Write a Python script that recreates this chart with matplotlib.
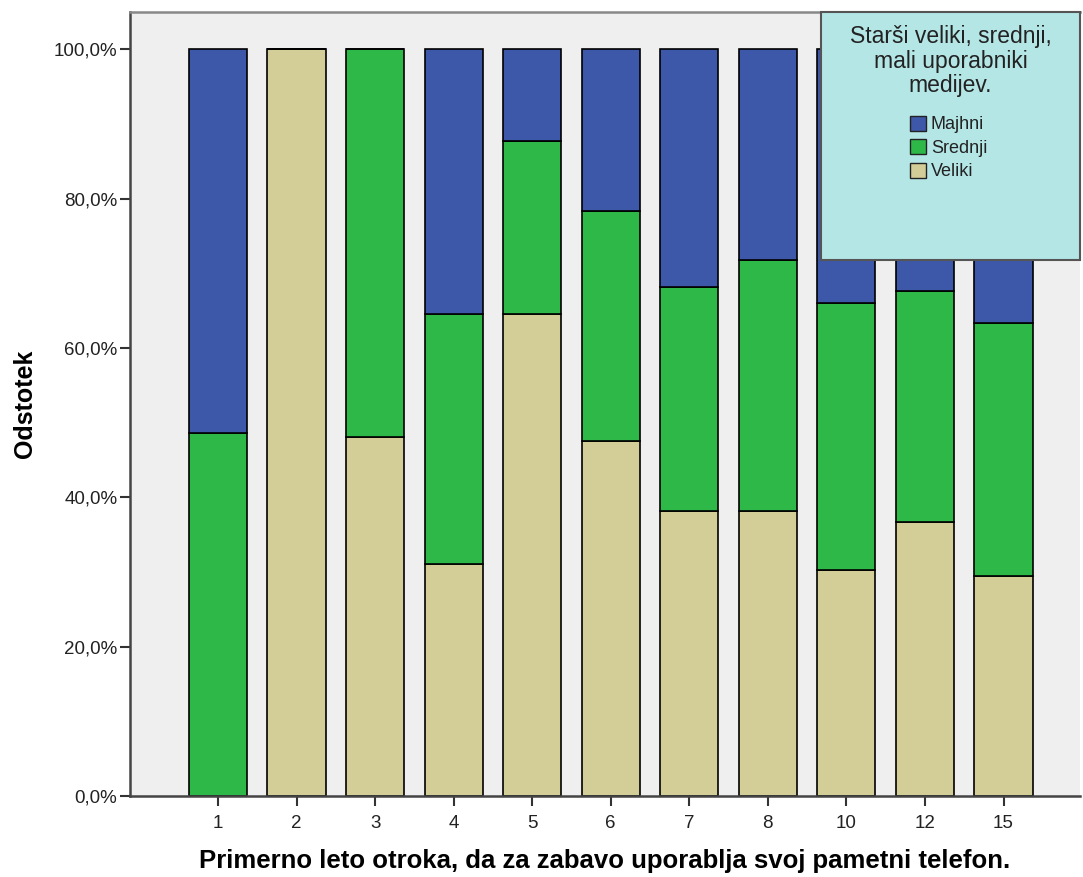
import numpy as np
import matplotlib.pyplot as plt
from matplotlib.patches import Rectangle, Patch
from matplotlib.ticker import FuncFormatter

plt.rcParams['font.family'] = ['Liberation Sans', 'DejaVu Sans']

# Data (percent of each age group)
ages = ['1', '2', '3', '4', '5', '6', '7', '8', '10', '12', '15']
veliki = [0.0, 100.0, 48.1, 31.1, 64.5, 47.5, 38.1, 38.1, 30.2, 36.7, 29.5]
srednji = [48.6, 0.0, 51.9, 33.4, 23.2, 30.8, 30.0, 33.7, 35.8, 30.9, 33.8]
majhni = [51.4, 0.0, 0.0, 35.5, 12.3, 21.7, 31.9, 28.2, 34.0, 32.4, 36.7]

col_majhni = '#3D58A9'
col_srednji = '#2EB848'
col_veliki = '#D3CE98'

fig = plt.figure(figsize=(10.83, 8.77), dpi=100)
ax = fig.add_axes([0.12, 0.0924, 0.877, 0.894])
ax.set_facecolor('#EFEFEF')

x = np.arange(len(ages))
w = 0.74
v = np.array(veliki)
s = np.array(srednji)
m = np.array(majhni)
ax.bar(x, v, w, color=col_veliki, edgecolor='black', linewidth=1.2, zorder=2)
ax.bar(x, s, w, bottom=v, color=col_srednji, edgecolor='black', linewidth=1.2, zorder=2)
ax.bar(x, m, w, bottom=v + s, color=col_majhni, edgecolor='black', linewidth=1.2, zorder=2)

ax.set_xlim(-1.12, 10.97)
ax.set_ylim(0, 105)
ax.set_xticks(x)
ax.set_xticklabels(ages)
ax.set_yticks([0, 20, 40, 60, 80, 100])
ax.yaxis.set_major_formatter(FuncFormatter(lambda val, pos: ('%.1f%%' % val).replace('.', ',')))
ax.tick_params(axis='both', which='major', labelsize=13.5, length=7, width=1.5,
               color='#333333', labelcolor='#222222')
ax.tick_params(axis='x', pad=7)
ax.tick_params(axis='y', pad=2)

for sp in ['left', 'bottom', 'top']:
    ax.spines[sp].set_color('#444444')
    ax.spines[sp].set_linewidth(1.8)
ax.spines['top'].set_color('#888888')
ax.spines['right'].set_visible(False)

ax.set_ylabel('Odstotek', fontsize=18, fontweight='bold', labelpad=12)
ax.set_xlabel('Primerno leto otroka, da za zabavo uporablja svoj pametni telefon.',
              fontsize=18.5, fontweight='bold', labelpad=12)

# Legend box
box = Rectangle((0.728, 0.684), 0.272, 0.316, transform=ax.transAxes,
                facecolor='#B5E6E6', edgecolor='#555555', linewidth=1.5,
                zorder=5, clip_on=False)
ax.add_patch(box)
ax.text(0.864, 0.983, 'Starši veliki, srednji,\nmali uporabniki\nmedijev.',
        transform=ax.transAxes, ha='center', va='top', fontsize=16.5,
        color='#222222', zorder=6, linespacing=1.08)
handles = [Patch(facecolor=col_majhni, edgecolor='#222222', label='Majhni'),
           Patch(facecolor=col_srednji, edgecolor='#222222', label='Srednji'),
           Patch(facecolor=col_veliki, edgecolor='#222222', label='Veliki')]
leg = ax.legend(handles=handles, loc='upper center', bbox_to_anchor=(0.862, 0.877),
                frameon=False, fontsize=13, handlelength=0.9, handleheight=0.9,
                handletextpad=0.25, labelspacing=0.32, borderaxespad=0,
                labelcolor='#222222')
leg.set_zorder(7)

plt.savefig('out.png', dpi=100)
